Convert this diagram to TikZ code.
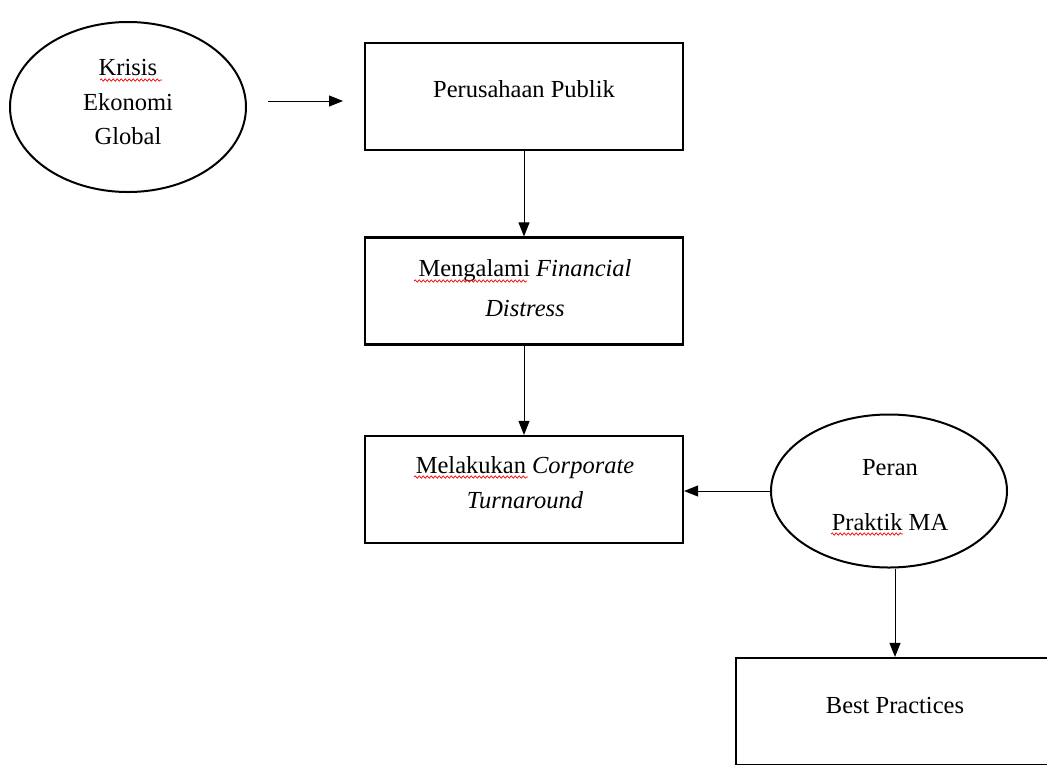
\documentclass[tikz,border=0pt]{standalone}
\usepackage{fontspec}
\setmainfont{Liberation Serif}
\usetikzlibrary{shapes.geometric,arrows.meta,decorations.pathmorphing}
\begin{document}
\begin{tikzpicture}[x=1pt,y=-1pt,
  box/.style={draw,line width=2.2pt,minimum width=318pt,minimum height=107pt,inner sep=0pt},
  oval/.style={draw,ellipse,line width=2pt,inner sep=0pt},
  txt/.style={align=center,font=\fontsize{24.5}{34.5}\selectfont,inner sep=0pt},
  arr/.style={line width=1pt,-{Triangle[length=14pt,width=11pt]}},
  squig/.style={red,line width=0.7pt,decorate,decoration={snake,amplitude=1.2pt,segment length=4pt}}]
\useasboundingbox (0,0) rectangle (1047,764);
\clip (0,0) rectangle (1047,764);
% shapes
\node[oval,minimum width=236pt,minimum height=170pt] (e1) at (128,107) {};
\node[box] (b1) at (524,96.5) {};
\node[box] (b2) at (524,291) {};
\node[box] (b3) at (524,489.5) {};
\node[oval,minimum width=236pt,minimum height=153pt] (e2) at (889,491) {};
\node[box] (b4) at (895,711.5) {};
% texts
\node[txt] (te1) at (128,102.5) {Krisis\\Ekonomi\\Global};
\node[txt] (t1) at (524,89) {Perusahaan Publik};
\node[txt] (t2) at (525,288) {Mengalami \textit{Financial}\\[5.5pt]\textit{Distress}};
\node[txt] (t3) at (525,482.5) {Melakukan \textit{Corporate}\\\textit{Turnaround}};
\node[txt] (te2) at (890,495.5) {Peran\\[20.5pt]Praktik MA};
\node[txt] (t4) at (895,705) {Best Practices};
% connectors
\coordinate (a1s) at (268,101);
\coordinate (a1e) at (343,101);
\draw[arr] (a1s) -- (a1e);
\draw[arr] (b1.south) -- (b2.north);
\draw[arr] (b2.south) -- (b3.north);
\draw[arr] (e2.west) -- (e2.west -| b3.east);
\coordinate (a5s) at (t4 |- e2.south);
\draw[arr] (a5s) -- (a5s |- b4.north);
% spell-check squiggles
\draw[squig] (100,80) -- (162,80);
\draw[squig] (414,281) -- (527,281);
\draw[squig] (414,477) -- (528,477);
\draw[squig] (831,534) -- (903,534);
\end{tikzpicture}
\end{document}
